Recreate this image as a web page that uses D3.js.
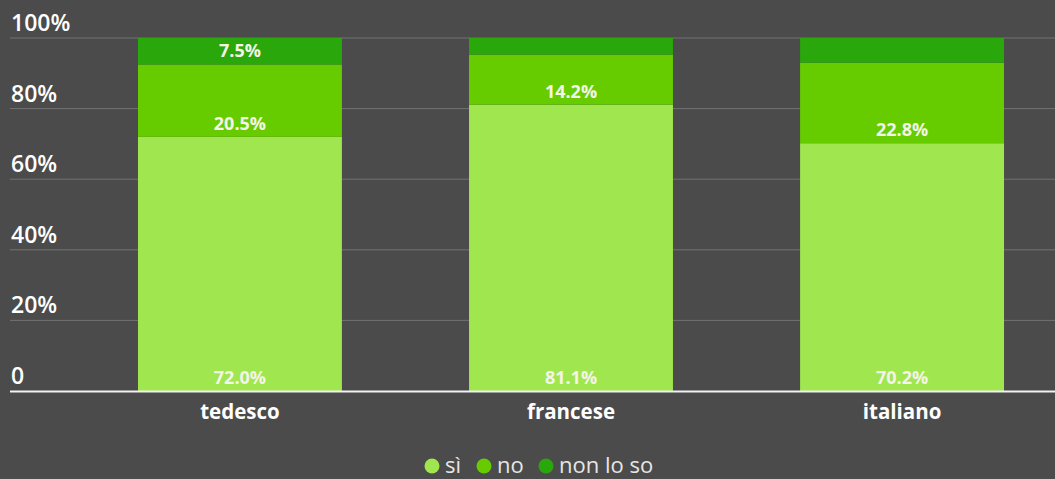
<!DOCTYPE html>
<html>
<head>
<meta charset="utf-8">
<script src="https://cdn.jsdelivr.net/npm/d3@7"></script>
<style>
  html, body { margin: 0; padding: 0; background: #4b4b4b; }
  svg { display: block; font-family: "Open Sans", "DejaVu Sans", sans-serif; }
</style>
</head>
<body>
<svg id="chart" width="1055" height="479"></svg>
<script>
// Survey answers per language group (percent)
const categories = ["tedesco", "francese", "italiano"];
const seriesNames = ["sì", "no", "non lo so"];
const siValues = [72.0, 81.1, 70.2];
const noValues = [20.5, 14.2, 22.8];
const nonLoSoValues = [7.5, 4.7, 7.0];
const yTicks = [0, 20, 40, 60, 80, 100];
const yTickLabels = ["0", "20%", "40%", "60%", "80%", "100%"];
const colors = ["#a0e64f", "#66cc00", "#2aa70a"];

const W = 1055, H = 479;
const svg = d3.select("#chart");
svg.append("rect").attr("width", W).attr("height", H).attr("fill", "#4b4b4b");

const x = d3.scaleBand()
  .domain(categories)
  .range([87, 1055])
  .paddingInner(0.384)
  .paddingOuter(0.154);

const y = d3.scaleLinear().domain([0, 100]).range([391, 38]);

// grid lines with labels sitting above them
const grid = svg.append("g");
grid.selectAll("line").data(yTicks.filter(t => t > 0)).join("line")
  .attr("x1", 10).attr("x2", W)
  .attr("y1", d => y(d)).attr("y2", d => y(d))
  .attr("stroke", "#727272").attr("stroke-width", 1);

grid.selectAll("text").data(yTicks).join("text")
  .attr("x", 11)
  .attr("y", d => y(d) - 7)
  .attr("fill", "#ffffff")
  .attr("font-size", 23)
  .attr("font-weight", 600)
  .text((d, i) => yTickLabels[i]);

// stacked data
const rows = categories.map((c, i) => ({
  cat: c,
  "sì": siValues[i],
  "no": noValues[i],
  "non lo so": nonLoSoValues[i]
}));
const stacked = d3.stack().keys(seriesNames)(rows);

const layers = svg.append("g").selectAll("g").data(stacked).join("g")
  .attr("fill", (d, i) => colors[i]);

layers.selectAll("rect").data(d => d).join("rect")
  .attr("x", d => x(d.data.cat))
  .attr("width", x.bandwidth())
  .attr("y", d => y(d[1]))
  .attr("height", d => y(d[0]) - y(d[1]));

// value labels near the bottom of each segment (small segments left unlabelled)
const labels = svg.append("g");
stacked.forEach(layer => {
  layer.forEach(d => {
    const v = d[1] - d[0];
    if (v < 7.2) return;
    labels.append("text")
      .attr("x", x(d.data.cat) + x.bandwidth() / 2)
      .attr("y", y(d[0]) - 7)
      .attr("text-anchor", "middle")
      .attr("fill", "#f4f4e8")
      .attr("font-size", 18)
      .attr("font-weight", 700)
      .text(d3.format(".1f")(v) + "%");
  });
});

// baseline
svg.append("line")
  .attr("x1", 10).attr("x2", W)
  .attr("y1", y(0) + 0.5).attr("y2", y(0) + 0.5)
  .attr("stroke", "#f2f2f2").attr("stroke-width", 2);

// category axis
const xAxis = svg.append("g").attr("transform", `translate(0,${y(0) + 1})`)
  .call(d3.axisBottom(x).tickSize(0).tickPadding(12));
xAxis.select(".domain").remove();
xAxis.selectAll("text")
  .attr("fill", "#ffffff")
  .attr("font-size", 20.5)
  .attr("font-weight", 700)
  .attr("font-family", "\"Open Sans\", sans-serif");

// legend
const legend = svg.append("g").attr("transform", "translate(0,466)");
const legendItems = [
  { name: seriesNames[0], cx: 432, tx: 445 },
  { name: seriesNames[1], cx: 484, tx: 497 },
  { name: seriesNames[2], cx: 546, tx: 559 }
];
legendItems.forEach((it, i) => {
  legend.append("circle").attr("cx", it.cx).attr("cy", 0).attr("r", 7.5).attr("fill", colors[i]);
  legend.append("text")
    .attr("x", it.tx).attr("y", 7)
    .attr("fill", "#e6e6e6")
    .attr("font-size", 22)
    .text(it.name);
});
</script>
</body>
</html>
